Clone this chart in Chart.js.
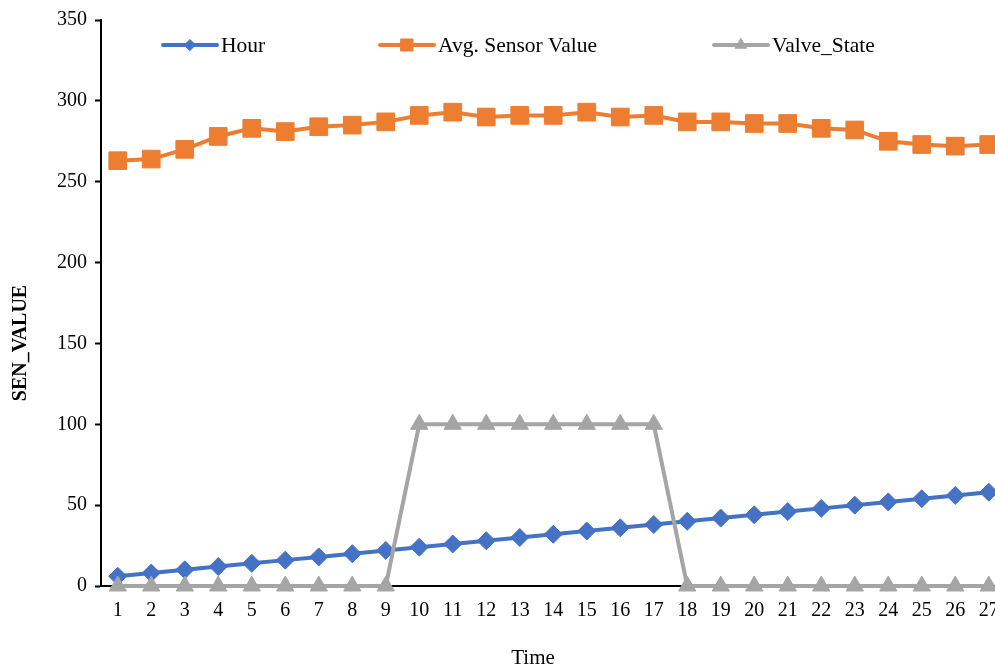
<!DOCTYPE html>
<html>
<head>
<meta charset="utf-8">
<script src="https://cdn.jsdelivr.net/npm/chart.js@4"></script>
<style>
  html, body { margin: 0; padding: 0; background: #fff; overflow: hidden; }
  #wrap { width: 995px; height: 668px; overflow: hidden; }
</style>
</head>
<body>
<div id="wrap"><canvas id="sensorChart" width="1019" height="668"></canvas></div>
<script>
/* ---- data ---- */
const timeLabels = ['1','2','3','4','5','6','7','8','9','10','11','12','13','14','15','16','17','18','19','20','21','22','23','24','25','26','27'];
const hourValues = [6, 8, 10, 12, 14, 16, 18, 20, 22, 24, 26, 28, 30, 32, 34, 36, 38, 40, 42, 44, 46, 48, 50, 52, 54, 56, 58];
const sensorValues = [263, 264, 270, 278, 283, 281, 284, 285, 287, 291, 293, 290, 291, 291, 293, 290, 291, 287, 287, 286, 286, 283, 282, 275, 273, 272, 273];
const valveValues = [0, 0, 0, 0, 0, 0, 0, 0, 0, 100, 100, 100, 100, 100, 100, 100, 100, 0, 0, 0, 0, 0, 0, 0, 0, 0, 0];
const yTicks = [0, 50, 100, 150, 200, 250, 300, 350];

const BLUE = '#4472C4';
const ORANGE = '#ED7D31';
const GRAY = '#A5A5A5';
const FONT = '"Liberation Serif", "Times New Roman", serif';

// legend drawn inside the plot area, like the original
const legendItems = [
  { text: 'Hour', color: BLUE, style: 'rectRot', r: 5.5, x: 163 },
  { text: 'Avg. Sensor Value', color: ORANGE, style: 'rect', r: 8.5, x: 380 },
  { text: 'Valve_State', color: GRAY, style: 'triangle', r: 6.5, x: 714 }
];

// legend + axis titles, placed where the original has them
const overlay = {
  id: 'overlay',
  afterDraw(chart) {
    const ctx = chart.ctx;
    const y = 45;
    ctx.save();
    legendItems.forEach(it => {
      ctx.strokeStyle = it.color;
      ctx.lineWidth = 4;
      ctx.lineCap = 'round';
      ctx.beginPath();
      ctx.moveTo(it.x, y);
      ctx.lineTo(it.x + 54, y);
      ctx.stroke();
      ctx.fillStyle = it.color;
      ctx.strokeStyle = it.color;
      ctx.lineWidth = 1;
      Chart.helpers.drawPoint(ctx, { pointStyle: it.style, radius: it.r, rotation: 0, borderWidth: 1 }, it.x + 27, y);
      ctx.fillStyle = '#000';
      ctx.font = '21.5px ' + FONT;
      ctx.textAlign = 'left';
      ctx.textBaseline = 'middle';
      ctx.fillText(it.text, it.x + 58, y + 1);
    });

    // x title
    ctx.font = '21px ' + FONT;
    ctx.textAlign = 'center';
    ctx.fillText('Time', 533, 658);

    // y title
    ctx.translate(21, 343);
    ctx.rotate(-Math.PI / 2);
    ctx.font = 'bold 20px ' + FONT;
    ctx.fillText('SEN_VALUE', 0, 0);
    ctx.restore();
  }
};

function lineSet(label, data, color, style, radius) {
  return {
    label,
    data,
    borderColor: color,
    backgroundColor: color,
    borderWidth: 4,
    pointStyle: style,
    pointRadius: radius,
    pointBorderWidth: 1,
    pointBorderColor: color,
    pointBackgroundColor: color,
    tension: 0,
    clip: false
  };
}

new Chart(document.getElementById('sensorChart'), {
  type: 'line',
  data: {
    labels: timeLabels,
    datasets: [
      lineSet('Valve_State', valveValues, GRAY, 'triangle', 10),
      lineSet('Avg. Sensor Value', sensorValues, ORANGE, 'rect', 12.5),
      lineSet('Hour', hourValues, BLUE, 'rectRot', 9)
    ]
  },
  options: {
    responsive: false,
    animation: false,
    devicePixelRatio: 1,
    layout: { padding: { top: 20, right: 0, left: 0, bottom: 0 } },
    plugins: {
      legend: { display: false },
      tooltip: { enabled: false }
    },
    scales: {
      x: {
        offset: true,
        grid: { display: false, drawTicks: false },
        border: { color: '#000', width: 2 },
        ticks: { color: '#000', font: { family: FONT, size: 20 }, padding: 13, maxRotation: 0, autoSkip: false },
        afterFit: s => { s.height = 82; }
      },
      y: {
        min: 0,
        max: 350,
        afterBuildTicks: s => { s.ticks = yTicks.map(v => ({ value: v })); },
        grid: { drawOnChartArea: false, tickLength: 6, color: '#000', tickWidth: 2 },
        border: { color: '#000', width: 2 },
        ticks: { color: '#000', font: { family: FONT, size: 20 }, padding: 8 },
        afterFit: s => { s.width = 101; }
      }
    }
  },
  plugins: [overlay]
});
</script>
</body>
</html>
